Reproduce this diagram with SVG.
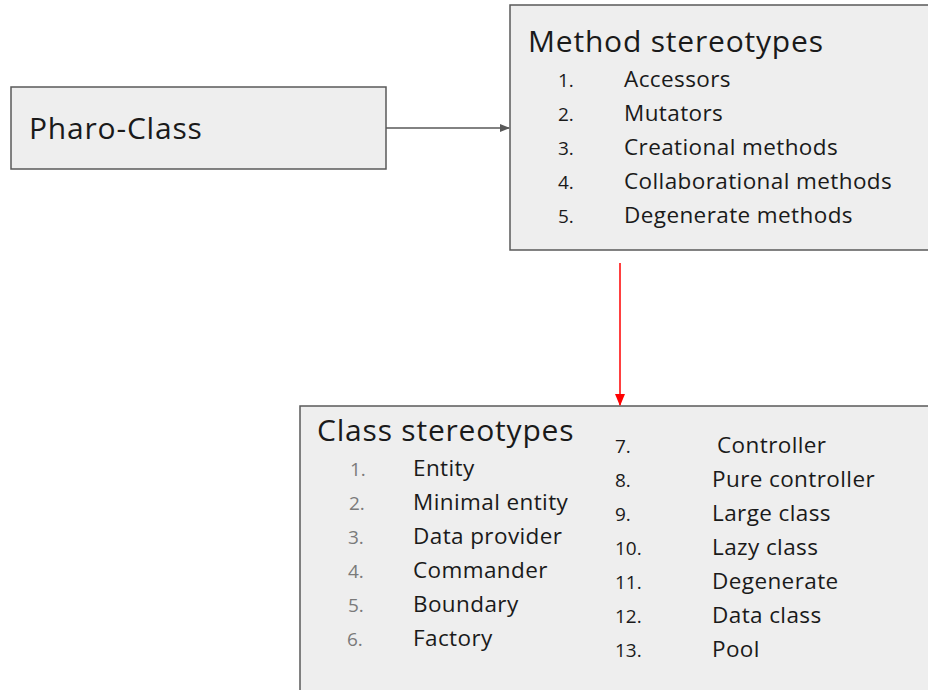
<svg xmlns="http://www.w3.org/2000/svg" width="928" height="690" viewBox="0 0 928 690">
<defs>
<style>
.box{fill:#eeeeee;stroke:#595959;stroke-width:1.5}
text{font-family:"Open Sans","Liberation Sans",sans-serif;fill:#1a1a1a}
.t{font-size:30px;letter-spacing:0.8px}
.i{font-size:22.5px;letter-spacing:0.4px}
.n{font-size:19px}
.g{fill:#7a7a7a}
</style>
<marker id="ag" markerWidth="10" markerHeight="10" refX="9" refY="5" orient="auto" markerUnits="userSpaceOnUse"><path d="M0,1 L10,5 L0,9 Z" fill="#595959"/></marker>
<marker id="ar" markerWidth="12" markerHeight="12" refX="6" refY="11" orient="0" markerUnits="userSpaceOnUse"><path d="M1,0 L6,12 L11,0 Z" fill="#ff0000"/></marker>
</defs>
<g id="pharo-class">
<rect class="box" x="11" y="87" width="375" height="82"/>
<text class="t" x="29" y="139">Pharo-Class</text>
</g>
<g id="method-stereotypes">
<rect class="box" x="510" y="5" width="430" height="245"/>
<text class="t" x="528" y="52">Method stereotypes</text>
<text class="n" x="558" y="87">1.</text><text class="i" x="624" y="87">Accessors</text>
<text class="n" x="558" y="121">2.</text><text class="i" x="624" y="121">Mutators</text>
<text class="n" x="558" y="155">3.</text><text class="i" x="624" y="155">Creational methods</text>
<text class="n" x="558" y="189">4.</text><text class="i" x="624" y="189">Collaborational methods</text>
<text class="n" x="558" y="223">5.</text><text class="i" x="624" y="223">Degenerate methods</text>
</g>
<g id="class-stereotypes">
<rect class="box" x="300" y="406" width="640" height="300"/>
<text class="t" x="317" y="441">Class stereotypes</text>
<text class="n g" x="350" y="476">1.</text><text class="i" x="413" y="476">Entity</text>
<text class="n g" x="349" y="510">2.</text><text class="i" x="413" y="510">Minimal entity</text>
<text class="n g" x="348" y="544">3.</text><text class="i" x="413" y="544">Data provider</text>
<text class="n g" x="348" y="578">4.</text><text class="i" x="413" y="578">Commander</text>
<text class="n g" x="348" y="612">5.</text><text class="i" x="413" y="612">Boundary</text>
<text class="n g" x="347" y="646">6.</text><text class="i" x="413" y="646">Factory</text>
<text class="n" x="615" y="453">7.</text><text class="i" x="717" y="453">Controller</text>
<text class="n" x="615" y="487">8.</text><text class="i" x="712" y="487">Pure controller</text>
<text class="n" x="615" y="521">9.</text><text class="i" x="712" y="521">Large class</text>
<text class="n" x="615" y="555">10.</text><text class="i" x="712" y="555">Lazy class</text>
<text class="n" x="615" y="589">11.</text><text class="i" x="712" y="589">Degenerate</text>
<text class="n" x="615" y="623">12.</text><text class="i" x="712" y="623">Data class</text>
<text class="n" x="615" y="657">13.</text><text class="i" x="712" y="657">Pool</text>
</g>
<g id="connectors">
<line x1="386" y1="128" x2="509" y2="128" stroke="#595959" stroke-width="1.5" marker-end="url(#ag)"/>
<line x1="620" y1="263" x2="620" y2="405" stroke="#ff0000" stroke-width="1.5" marker-end="url(#ar)"/>
</g>
</svg>
